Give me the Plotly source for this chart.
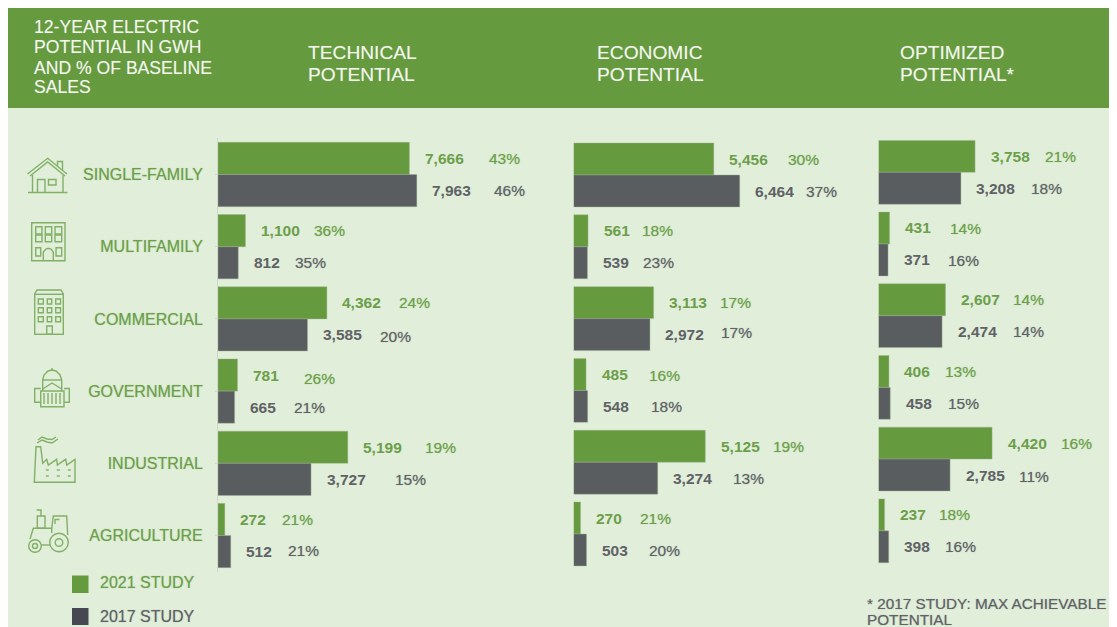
import plotly.graph_objects as go

# ---- data ----
categories = ["SINGLE-FAMILY", "MULTIFAMILY", "COMMERCIAL", "GOVERNMENT", "INDUSTRIAL", "AGRICULTURE"]
series_names = ["2021 STUDY", "2017 STUDY"]

technical_2021 = [7666, 1100, 4362, 781, 5199, 272]
technical_2017 = [7963, 812, 3585, 665, 3727, 512]
technical_pct_2021 = ["43%", "36%", "24%", "26%", "19%", "21%"]
technical_pct_2017 = ["46%", "35%", "20%", "21%", "15%", "21%"]

economic_2021 = [5456, 561, 3113, 485, 5125, 270]
economic_2017 = [6464, 539, 2972, 548, 3274, 503]
economic_pct_2021 = ["30%", "18%", "17%", "16%", "19%", "21%"]
economic_pct_2017 = ["37%", "23%", "17%", "18%", "13%", "20%"]

optimized_2021 = [3758, 431, 2607, 406, 4420, 237]
optimized_2017 = [3208, 371, 2474, 458, 2785, 398]
optimized_pct_2021 = ["21%", "14%", "14%", "13%", "16%", "18%"]
optimized_pct_2017 = ["18%", "16%", "14%", "15%", "11%", "16%"]

header_left = ["12-YEAR ELECTRIC", "POTENTIAL IN GWH", "AND % OF BASELINE", "SALES"]
panel_titles = [["TECHNICAL", "POTENTIAL"], ["ECONOMIC", "POTENTIAL"], ["OPTIMIZED", "POTENTIAL*"]]
footnote = ["* 2017 STUDY: MAX ACHIEVABLE", "POTENTIAL"]

# ---- styles / layout (pixel positions in the page) ----
W, H = 1125, 619
OFF = 8
GREEN = "#669A3E"
GRAY = "#5A5D60"
LEG_GRAY = "#454850"
BG = "#E1EED9"
TXT_GREEN = "#6C9F4B"
TXT_GRAY = "#5F6266"
ICON = "#82B067"
FONT = "Liberation Sans, Arial, sans-serif"
FS = 15.5
SHADOW = {TXT_GREEN: "rgba(108,159,75,0.55)", TXT_GRAY: "rgba(95,98,102,0.55)", "#F3F7EF": "rgba(243,247,239,0.3)"}


def X(px):
    return (px - OFF) / W


def Y(py):
    return 1 - (py - OFF) / H


def soft(color, r=1):
    return f"0px 0px {r}px {SHADOW[color]}"


panels = [
    dict(x0=218.0, x1=545.0, scale=0.02497, top=138.4, bot=571.6, title_x=308,
         a=technical_2021, b=technical_2017, pa=technical_pct_2021, pb=technical_pct_2017,
         oa=[64, 53, 57, 51, 62, 42], ob=[62, 41, 57, 43.5, 68, 42],
         na=[0, 0, 0, 3, 0, 0], nb=[0, 0, 1.5, 0, 0, -1.5]),
    dict(x0=573.6, x1=860.0, scale=0.02570, top=139.1, bot=569.9, title_x=597,
         a=economic_2021, b=economic_2017, pa=economic_pct_2021, pb=economic_pct_2017,
         oa=[59, 38, 51, 47, 52.6, 44], ob=[51, 40, 56, 48, 60, 46.5],
         na=[0, 0, 0, 1.5, 0, 0], nb=[0, 0, -2, 0, 0, 0]),
    dict(x0=878.5, x1=1117.0, scale=0.02570, top=136.45, bot=566.65, title_x=900,
         a=optimized_2021, b=optimized_2017, pa=optimized_pct_2021, pb=optimized_pct_2017,
         oa=[54, 45, 52, 41, 53, 39], ob=[55, 44, 55, 42, 53, 41],
         na=[0, 1, 0, 0, 0, 0], nb=[0, 1, 0, 0, 1, 0]),
]

fig = go.Figure()
shapes, annotations = [], []


def text(px, py, s, color="white", size=FS, bold=False, anchor="left"):
    annotations.append(dict(
        xref="paper", yref="paper", x=X(px), y=Y(py), text=f"<b>{s}</b>" if bold else s,
        showarrow=False, xanchor=anchor, yanchor="middle", borderpad=0, borderwidth=0,
        font=dict(family=FONT, size=size, color=color, shadow=soft(color))))


for i, p in enumerate(panels):
    sfx = "" if i == 0 else str(i + 1)
    for vals, name, col in ((p["a"], series_names[0], GREEN), (p["b"], series_names[1], GRAY)):
        fig.add_trace(go.Bar(
            y=categories, x=vals, name=name, orientation="h", xaxis="x" + sfx, yaxis="y" + sfx,
            marker=dict(color=col, line=dict(color="rgba(160,180,150,0.7)", width=0.6)),
            showlegend=False, hoverinfo="skip"))
    xa = dict(domain=[X(p["x0"]), X(p["x1"])], range=[0, (p["x1"] - p["x0"]) / p["scale"]],
              visible=False, anchor="y" + sfx, fixedrange=True)
    ya = dict(domain=[Y(p["bot"]), Y(p["top"])], type="category", categoryorder="array",
              categoryarray=categories, autorange="reversed", anchor="x" + sfx, fixedrange=True,
              showgrid=False, zeroline=False)
    if i == 0:
        ya.update(showline=True, linecolor="#CFD8CB", linewidth=1, ticks="outside", ticklen=2,
                  tickcolor="#CFD8CB", ticklabelstandoff=9,
                  tickfont=dict(family=FONT, size=16, color=TXT_GREEN, shadow=soft(TXT_GREEN)))
    else:
        ya.update(showline=False, showticklabels=False, ticks="")
    fig.update_layout({"xaxis" + sfx: xa, "yaxis" + sfx: ya})

    # value + percentage labels beside each bar
    for vals, pcts, offs, nudge, color, ysh in (
        (p["a"], p["pa"], p["oa"], p["na"], TXT_GREEN, 16),
        (p["b"], p["pb"], p["ob"], p["nb"], TXT_GRAY, -16),
    ):
        for cat, v, pct, o, n in zip(categories, vals, pcts, offs, nudge):
            base = dict(xref="x" + sfx, yref="y" + sfx, x=v, y=cat, showarrow=False,
                        xanchor="left", yanchor="middle", borderpad=0, borderwidth=0, yshift=ysh)
            annotations.append(dict(base, text=f"<b>{v:,}</b>", xshift=15.5,
                                    font=dict(family=FONT, size=FS, color=color)))
            annotations.append(dict(base, text=pct, xshift=15.5 + o, yshift=ysh - n,
                                    font=dict(family=FONT, size=FS, color=color, shadow=soft(color))))

    for ln, (s, py) in enumerate(zip(panel_titles[i], (52.5, 74.5))):
        text(p["title_x"], py, s, "#F3F7EF", 19.2)

# header band and its text
shapes.append(dict(type="rect", xref="paper", yref="paper", x0=0, x1=1, y0=Y(108), y1=1,
                   fillcolor=GREEN, line_width=0, layer="below"))
for s, py in zip(header_left, (27, 47.3, 67.5, 87.3)):
    text(34, py, s, "#F3F7EF", 17.6)

# legend
for name, col, tcol, (y0, y1, tx) in zip(series_names, (GREEN, LEG_GRAY), (TXT_GREEN, TXT_GRAY),
                                         ((575.5, 593, 582.5), (608, 625, 616.5))):
    shapes.append(dict(type="rect", xref="paper", yref="paper", x0=X(72), x1=X(88.5), y0=Y(y1), y1=Y(y0),
                       fillcolor=col, line_width=0))
    text(100, tx, name, tcol, 16)

# footnote
text(867, 603, footnote[0], TXT_GRAY, 15.3)
text(867, 619.5, footnote[1], TXT_GRAY, 15.3)


# ---- decorative category icons (line art in page pixels) ----
def line(pts, close=False):
    d = "M" + " L".join(f"{X(x):.5f},{Y(y):.5f}" for x, y in pts)
    shapes.append(dict(type="path", xref="paper", yref="paper", path=d + (" Z" if close else ""),
                       line=dict(color=ICON, width=1.4), fillcolor="rgba(0,0,0,0)"))


def rect(x0, y0, x1, y1):
    line([(x0, y0), (x1, y0), (x1, y1), (x0, y1)], True)


def circle(cx, cy, r):
    shapes.append(dict(type="circle", xref="paper", yref="paper", x0=X(cx - r), x1=X(cx + r),
                       y0=Y(cy + r), y1=Y(cy - r), line=dict(color=ICON, width=1.4)))


# house
line([(27.5, 174), (47.7, 158.3), (67, 174)])
line([(30, 176), (47.7, 162), (65, 176)])
line([(57.5, 166), (57.5, 161.5), (62.5, 161.5), (62.5, 170)])
line([(32.5, 175), (32.5, 192)])
line([(63, 175), (63, 192)])
line([(28, 192.5), (67.5, 192.5)])
line([(37.5, 192), (37.5, 179.5), (45, 179.5), (45, 192)])
rect(48.5, 179.5, 56, 185)
# multifamily
rect(31.7, 222.7, 65, 260.7)
for x0, x1 in ((35.7, 42), (45.3, 51.7), (55, 61.7)):
    rect(x0, 226.7, x1, 234)
    rect(x0, 235, x1, 241.7)
rect(35.7, 247.7, 40.7, 256)
rect(56, 247.7, 61.7, 256)
line([(43.3, 260.7), (43.3, 252), (46, 249), (48.3, 248.3), (51, 249), (53.3, 252), (53.3, 260.7)])
# commercial
line([(34.7, 334.3), (34.7, 294), (37, 290), (61, 290), (63.3, 294), (63.3, 334.3)])
line([(34.7, 294.3), (63.3, 294.3)])
line([(34, 334.3), (64, 334.3)])
for ya0 in (299, 307.7, 316.7):
    for xa0, xa1 in ((38.3, 43.3), (47.3, 51.7), (55.7, 60.5)):
        rect(xa0, ya0, xa1, ya0 + 5)
rect(46.7, 326, 52.3, 334.3)
# government
line([(42.7, 380), (44, 375), (48, 371), (52, 370), (56, 371), (60, 375), (61.7, 380)])
line([(52, 370), (52, 368)])
line([(42.7, 380), (61.7, 380)])
line([(42.7, 380), (42.7, 391)])
line([(61.7, 380), (61.7, 391)])
line([(42.7, 389), (52, 383), (61.7, 389)])
line([(40.7, 391), (64, 391), (64, 406.7), (40.7, 406.7)], True)
line([(40.7, 388.5), (34.7, 388.5), (34.7, 402.3), (40.7, 402.3)])
line([(64, 388.5), (69.3, 388.5), (69.3, 402.3), (64, 402.3)])
for cx in (44, 48, 52, 56, 60):
    line([(cx, 393), (cx, 404)])
# industrial
line([(34.3, 482.3), (75, 482.3), (75, 459.3), (66.7, 465), (65.7, 459.3), (57.3, 465), (56.7, 459.3),
      (48.3, 465), (46.7, 459.3), (42.7, 463.3), (40.7, 446.7), (36, 446.7)], True)
line([(37, 443), (42, 440), (47, 442), (52, 443), (58, 439)])
line([(38, 440), (42, 437), (47, 439), (52, 439.5), (56, 437)])
for yy in (470, 476):
    for xx in (47.3, 58.3, 69.3):
        line([(xx - 1.5, yy), (xx + 1.5, yy)])
# agriculture
circle(59, 542.5, 9.3)
circle(59, 542.5, 3.8)
circle(35, 546, 6.3)
circle(35, 546, 2.5)
line([(30, 539), (33.3, 528.3), (51.7, 528.3), (51.7, 533)])
line([(51.7, 528.3), (53.3, 516), (66.7, 516), (67.7, 535)])
line([(41, 545), (50, 545)])
rect(37.3, 516, 45, 528.3)
line([(41, 516), (41, 510), (36.7, 510)])
line([(55, 524), (55, 519.5), (59.5, 519.5)])

fig.update_layout(
    width=W, height=H, autosize=False,
    margin=dict(l=0, r=0, t=0, b=0, pad=0),
    paper_bgcolor=BG, plot_bgcolor="rgba(0,0,0,0)",
    barmode="group", bargap=0.11, bargroupgap=0,
    showlegend=False, shapes=shapes, annotations=annotations,
    font=dict(family=FONT),
)
fig.write_html("out.html", post_script="document.documentElement.style.overflow='hidden';")
